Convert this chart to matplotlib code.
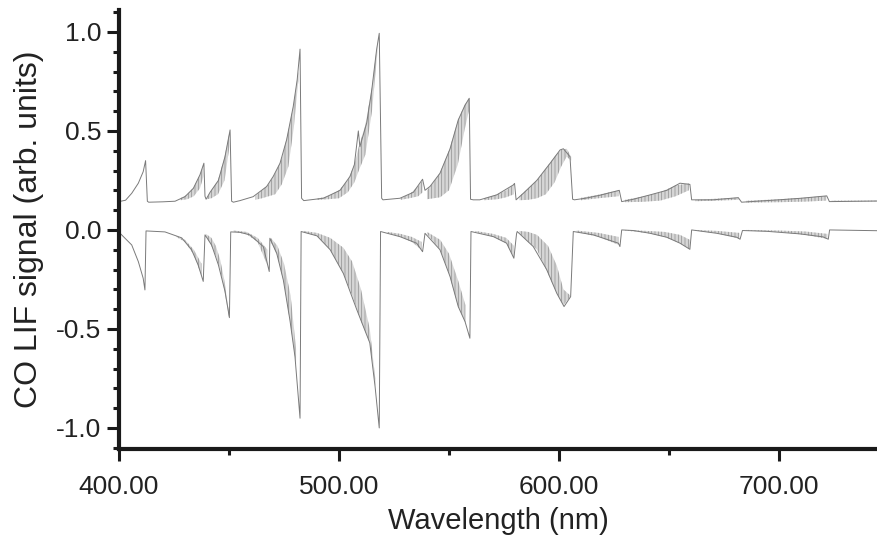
import numpy as np
import matplotlib
matplotlib.use("Agg")
import matplotlib.pyplot as plt
from matplotlib.ticker import MultipleLocator, FormatStrFormatter

# upper trace (offset spectrum), outline
upper_x = [400, 403, 405.8, 408.8, 411, 412.1, 412.9, 413.5, 420, 425.5, 430, 433.8, 436.8, 438.6,
           439.1, 439.6, 441.4, 445.2, 448.2, 450.5, 451.2, 452, 455, 461, 467.1, 470.1, 473.2,
           476.2, 479.2, 481, 482.3, 483, 484, 492.9, 500.5, 505, 507, 508.8, 509.5, 512.6, 514.9,
           517.1, 518.3, 519.4, 520, 527.7, 533.8, 538, 539.1, 541.4, 545.9, 550.5, 554.2, 557.3,
           559.2, 559.8, 561, 564, 571.7, 579.2, 579.8, 580.5, 583.8, 589.9, 596, 600.5, 602, 605,
           606.2, 607, 612, 618.6, 627.4, 628.5, 633.8, 641.4, 649, 655, 659.5, 660.3, 670, 681.5,
           683, 690, 700, 710, 721.7, 722.9, 745]
upper_y = [0.143, 0.15, 0.185, 0.236, 0.294, 0.35, 0.145, 0.14, 0.142, 0.145, 0.168, 0.21, 0.278, 0.337,
           0.17, 0.155, 0.19, 0.25, 0.37, 0.505, 0.145, 0.14, 0.148, 0.168, 0.219, 0.27, 0.337,
           0.455, 0.623, 0.758, 0.913, 0.16, 0.148, 0.16, 0.2, 0.27, 0.33, 0.5, 0.42, 0.54, 0.707,
           0.91, 0.993, 0.16, 0.152, 0.16, 0.19, 0.256, 0.2, 0.22, 0.286, 0.41, 0.555, 0.63,
           0.665, 0.155, 0.152, 0.152, 0.177, 0.227, 0.235, 0.152, 0.185, 0.25, 0.337, 0.404, 0.41, 0.37,
           0.155, 0.152, 0.16, 0.175, 0.2, 0.143, 0.155, 0.177, 0.2, 0.236, 0.23, 0.152, 0.152, 0.163,
           0.14, 0.145, 0.152, 0.16, 0.172, 0.143, 0.146]

# lower trace (inverted spectrum)
lower_x = [400, 400.5, 405.8, 408.8, 411, 411.8, 412.3, 420.9, 428.5, 433, 436, 438.3, 439.1, 442.1,
           445.2, 448.2, 450.2, 450.8, 455, 459.5, 465.6, 468.3, 468.6, 471.7, 474.7, 477.7, 480,
           482.3, 482.8, 490, 496, 502, 508, 514, 516.4, 518.3, 518.9, 527.7, 535.3, 538, 539.1,
           545.9, 550.5, 554.2, 557.3, 559.5, 560, 570.2, 576.2, 579.5, 580.7, 581, 588.3, 594.4,
           599, 602.3, 605.3, 606.5, 615.6, 627, 627.7, 628.5, 633.8, 641.4, 649, 655, 659.5, 660.3,
           671.7, 680.8, 682.3, 683.4, 694.4, 709.5, 720, 722.4, 723, 745]
lower_y = [-0.003, -0.017, -0.076, -0.16, -0.244, -0.303, -0.005, -0.01, -0.04, -0.1, -0.177, -0.26, -0.025, -0.076,
           -0.177, -0.31, -0.443, -0.01, -0.012, -0.025, -0.084, -0.21, -0.042, -0.118, -0.253, -0.455, -0.64,
           -0.951, -0.008, -0.03, -0.1, -0.22, -0.4, -0.57, -0.79, -1.0, -0.008, -0.034, -0.067, -0.11, -0.017,
           -0.1, -0.236, -0.387, -0.463, -0.547, -0.008, -0.034, -0.067, -0.143, -0.02, -0.008, -0.084, -0.2,
           -0.32, -0.387, -0.337, -0.008, -0.025, -0.067, -0.084, 0.0, -0.003, -0.017, -0.037, -0.067, -0.098, 0.0,
           -0.017, -0.037, -0.047, -0.003, -0.007, -0.02, -0.035, -0.047, 0.0, -0.004]

# dense rotational structure: (x, low edge, high edge) per band, NaN separates bands
nan = np.nan
upper_fill_x = [428, 431, 434, 436.8, 438.4, nan,
                440, 442, 445, 448, 450.2, nan,
                462, 465, 468, 471, 474, 477, 479.5, 481.5, nan,
                490, 495, 500, 504, 507, 509, 512, 515, 517.5, nan,
                528, 532, 536, 538, nan,
                540, 543, 546, 550, 554, 557, 559, nan,
                566, 572, 576, 579.5, nan,
                582, 586, 590, 594, 598, 601, 603.5, 605.5, nan,
                610, 618, 627, nan,
                630, 638, 646, 653, 659, nan,
                662, 672, 681.5, nan,
                685, 700, 712, 721.5, nan,
                724, 745]
upper_fill_lo = [0.15, 0.155, 0.17, 0.21, 0.27, nan,
                 0.155, 0.16, 0.18, 0.25, 0.42, nan,
                 0.152, 0.16, 0.17, 0.18, 0.23, 0.32, 0.52, 0.75, nan,
                 0.152, 0.155, 0.16, 0.19, 0.24, 0.3, 0.38, 0.6, 0.9, nan,
                 0.152, 0.16, 0.17, 0.19, nan,
                 0.155, 0.16, 0.165, 0.2, 0.33, 0.5, 0.6, nan,
                 0.15, 0.155, 0.165, 0.18, nan,
                 0.15, 0.152, 0.16, 0.18, 0.24, 0.32, 0.37, 0.35, nan,
                 0.15, 0.16, 0.17, nan,
                 0.14, 0.142, 0.148, 0.17, 0.2, nan,
                 0.145, 0.148, 0.152, nan,
                 0.138, 0.14, 0.143, 0.148, nan,
                 0.143, 0.144]
upper_fill_hi = [0.16, 0.178, 0.215, 0.278, 0.33, nan,
                 0.16, 0.2, 0.25, 0.37, 0.49, nan,
                 0.172, 0.2, 0.23, 0.285, 0.36, 0.5, 0.64, 0.8, nan,
                 0.158, 0.17, 0.2, 0.25, 0.33, 0.42, 0.53, 0.72, 0.95, nan,
                 0.16, 0.18, 0.22, 0.25, nan,
                 0.2, 0.24, 0.29, 0.4, 0.55, 0.63, 0.66, nan,
                 0.16, 0.18, 0.2, 0.23, nan,
                 0.17, 0.21, 0.25, 0.31, 0.37, 0.405, 0.41, 0.37, nan,
                 0.162, 0.178, 0.2, nan,
                 0.152, 0.168, 0.19, 0.225, 0.235, nan,
                 0.152, 0.158, 0.163, nan,
                 0.147, 0.155, 0.163, 0.172, nan,
                 0.148, 0.148]

lower_fill_x = [426, 430, 434, 437.5, nan,
                439.5, 442, 444, 446, 448, 450, nan,
                452, 458, 463, 467.5, nan,
                469, 472, 475, 478, 480.5, nan,
                484, 490, 496, 502, 506, 510, 514, 516.5, nan,
                522, 528, 533, 537.5, nan,
                540, 543, 546, 550, 554, 557.5, nan,
                562, 570, 576, 579.5, nan,
                582, 586, 590, 595, 599, 602, 605, nan,
                608, 618, 627, nan,
                630, 640, 648, 655, 659.5, nan,
                662, 672, 682, nan,
                685, 700, 712, 722]
lower_fill_hi = [-0.03, -0.05, -0.1, -0.17, nan,
                 -0.02, -0.04, -0.08, -0.15, -0.26, -0.42, nan,
                 -0.003, -0.01, -0.04, -0.1, nan,
                 -0.04, -0.08, -0.17, -0.33, -0.6, nan,
                 -0.005, -0.015, -0.04, -0.09, -0.16, -0.3, -0.5, -0.75, nan,
                 -0.01, -0.02, -0.035, -0.06, nan,
                 -0.01, -0.03, -0.05, -0.12, -0.25, -0.38, nan,
                 -0.005, -0.02, -0.04, -0.08, nan,
                 -0.005, -0.01, -0.025, -0.08, -0.18, -0.3, -0.33, nan,
                 -0.003, -0.015, -0.035, nan,
                 0.0, -0.005, -0.01, -0.025, -0.05, nan,
                 0.0, -0.005, -0.015, nan,
                 0.0, -0.003, -0.008, -0.02]
lower_fill_lo = [-0.035, -0.06, -0.125, -0.23, nan,
                 -0.03, -0.08, -0.13, -0.2, -0.31, -0.44, nan,
                 -0.008, -0.022, -0.06, -0.18, nan,
                 -0.06, -0.13, -0.27, -0.48, -0.68, nan,
                 -0.012, -0.03, -0.1, -0.22, -0.33, -0.46, -0.57, -0.79, nan,
                 -0.015, -0.035, -0.06, -0.1, nan,
                 -0.02, -0.06, -0.1, -0.22, -0.38, -0.47, nan,
                 -0.01, -0.034, -0.067, -0.14, nan,
                 -0.015, -0.06, -0.1, -0.22, -0.32, -0.38, -0.34, nan,
                 -0.01, -0.035, -0.075, nan,
                 -0.003, -0.015, -0.035, -0.067, -0.098, nan,
                 -0.003, -0.017, -0.045, nan,
                 -0.004, -0.01, -0.025, -0.045]

plt.rcParams["font.family"] = ["Liberation Sans", "DejaVu Sans"]
plt.rcParams["hatch.linewidth"] = 0.5

fig = plt.figure(figsize=(8.78, 5.37), dpi=100)
ax = fig.add_axes([0.1355, 0.164, 0.8645, 0.8175])

line_color = "#7a7a7a"
for fx, flo, fhi in [(upper_fill_x, upper_fill_lo, upper_fill_hi),
                     (lower_fill_x, lower_fill_lo, lower_fill_hi)]:
    ax.fill_between(np.array(fx), np.array(flo), np.array(fhi), facecolor="#d6d6d6",
                    edgecolor="#8f8f8f", hatch="|||||", linewidth=0)
ax.plot(upper_x, upper_y, color=line_color, linewidth=0.7)
ax.plot(lower_x, lower_y, color=line_color, linewidth=0.7)

ax.set_xlim(400, 745)
ax.set_ylim(-1.106, 1.111)
ax.xaxis.set_major_locator(MultipleLocator(100))
ax.xaxis.set_minor_locator(MultipleLocator(50))
ax.xaxis.set_major_formatter(FormatStrFormatter("%.2f"))
ax.yaxis.set_major_locator(MultipleLocator(0.5))
ax.yaxis.set_minor_locator(MultipleLocator(0.1))
ax.yaxis.set_major_formatter(FormatStrFormatter("%.1f"))

for side in ["top", "right"]:
    ax.spines[side].set_visible(False)
for side in ["left", "bottom"]:
    ax.spines[side].set_linewidth(3.0)
    ax.spines[side].set_color("#1a1a1a")

ax.tick_params(which="major", length=8.5, width=2.2, color="#1a1a1a", labelcolor="#222222")
ax.tick_params(which="minor", length=4.3, width=2.2, color="#1a1a1a")
ax.tick_params(axis="x", which="major", labelsize=19, pad=10)
ax.tick_params(axis="y", which="major", labelsize=19, pad=4)

ax.set_xlabel("Wavelength (nm)", fontsize=21, labelpad=6, color="#222222")
ax.set_ylabel("CO LIF signal (arb. units)", fontsize=23, labelpad=9, color="#222222")

fig.savefig("out.png", dpi=100)
plt.close(fig)
